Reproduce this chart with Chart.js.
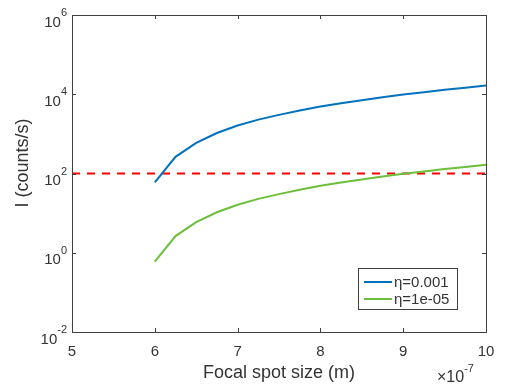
<!DOCTYPE html>
<html>
<head>
<meta charset="utf-8">
<script src="https://cdn.jsdelivr.net/npm/chart.js@4"></script>
<style>
  body { margin: 0; background: #fff; }
  #wrap { width: 506px; height: 384px; }
</style>
</head>
<body>
<div id="wrap"><canvas id="myChart" width="506" height="384"></canvas></div>
<script>
// focal spot size in units of 1e-7 m
const spotSize = [6, 6.25, 6.5, 6.75, 7, 7.25, 7.5, 7.75, 8, 8.25, 8.5, 8.75, 9, 9.25, 9.5, 9.75, 10];
const countsEta3 = [60, 263, 590, 1050, 1620, 2290, 3020, 3890, 4900, 5900, 7080, 8400, 9900, 11300, 12900, 14600, 16600];
const countsEta5 = [0.6, 2.63, 5.9, 10.5, 16.2, 22.9, 30.2, 38.9, 49, 59, 70.8, 84, 99, 113, 129, 146, 166];
const thresholdX = [5, 10];
const thresholdY = [100, 100];
const xTicks = [5, 6, 7, 8, 9, 10];
const yTicks = [1e-2, 1, 1e2, 1e4, 1e6];
const yTickExp = ["-2", "0", "2", "4", "6"];

const FONT = "'Liberation Sans', Arial, Helvetica, sans-serif";
const AX = "#404040";
const TXT = "#333333";

function pts(xs, ys) { return xs.map((x, i) => ({ x: x, y: ys[i] })); }

const matlabAxes = {
  id: "matlabAxes",
  afterDraw(chart) {
    const ctx = chart.ctx;
    const a = chart.chartArea;
    const xs = chart.scales.x, ys = chart.scales.y;
    ctx.save();
    // box
    ctx.strokeStyle = AX;
    ctx.lineWidth = 1;
    ctx.strokeRect(Math.round(a.left) + 0.5, Math.round(a.top) + 0.5,
      Math.round(a.right - a.left), Math.round(a.bottom - a.top));
    // ticks
    ctx.beginPath();
    xTicks.forEach(v => {
      const px = Math.round(xs.getPixelForValue(v)) + 0.5;
      ctx.moveTo(px, a.bottom); ctx.lineTo(px, a.bottom - 4);
      ctx.moveTo(px, a.top); ctx.lineTo(px, a.top + 4);
    });
    yTicks.forEach(v => {
      const py = Math.round(ys.getPixelForValue(v)) + 0.5;
      ctx.moveTo(a.left, py); ctx.lineTo(a.left + 4, py);
      ctx.moveTo(a.right, py); ctx.lineTo(a.right - 4, py);
    });
    ctx.stroke();

    ctx.fillStyle = TXT;
    // x tick labels
    ctx.font = "15px " + FONT;
    ctx.textAlign = "center";
    ctx.textBaseline = "alphabetic";
    xTicks.forEach(v => {
      ctx.fillText(String(v), xs.getPixelForValue(v), a.bottom + 24);
    });
    // y tick labels 10^n
    yTicks.forEach((v, i) => {
      const py = ys.getPixelForValue(v);
      ctx.font = "11px " + FONT;
      const ew = ctx.measureText(yTickExp[i]).width;
      ctx.textAlign = "right";
      ctx.fillText(yTickExp[i], a.left - 5, py + 1);
      ctx.font = "15px " + FONT;
      ctx.fillText("10", a.left - 5 - ew, py + 11.5);
    });
    // exponent of x axis
    ctx.textAlign = "left";
    ctx.font = "16px " + FONT;
    ctx.fillText("\u00d710", 437, 382);
    const w10 = ctx.measureText("\u00d710").width;
    ctx.font = "11px " + FONT;
    ctx.fillText("-7", 437 + w10, 372);

    // axis titles
    ctx.font = "18px " + FONT;
    ctx.textAlign = "center";
    ctx.fillText("Focal spot size (m)", (a.left + a.right) / 2, 378);
    ctx.save();
    ctx.translate(23, 163);
    ctx.rotate(-Math.PI / 2);
    ctx.textBaseline = "middle";
    ctx.fillText("I (counts/s)", 0, 0);
    ctx.restore();

    // legend
    const lx = 358, ly = 268, lw = 99, lh = 41;
    ctx.fillStyle = "#fff";
    ctx.fillRect(lx, ly, lw, lh);
    ctx.strokeStyle = AX;
    ctx.strokeRect(lx + 0.5, ly + 0.5, lw, lh);
    ctx.font = "15px " + FONT;
    ctx.textAlign = "left";
    ctx.textBaseline = "middle";
    chart.data.datasets.slice(0, 2).forEach((ds, i) => {
      const yy = ly + 14 + i * 17;
      ctx.strokeStyle = ds.borderColor;
      ctx.lineWidth = 2;
      ctx.beginPath();
      ctx.moveTo(lx + 6, yy); ctx.lineTo(lx + 34, yy);
      ctx.stroke();
      ctx.fillStyle = TXT;
      ctx.fillText(ds.label, lx + 36, yy + 1);
    });
    ctx.restore();
  }
};

const ctx = document.getElementById("myChart").getContext("2d");
const chart = new Chart(ctx, {
  type: "line",
  data: {
    datasets: [
      { label: "\u03b7=0.001", data: pts(spotSize, countsEta3), borderColor: "#0072bd", borderWidth: 2, pointRadius: 0, tension: 0 },
      { label: "\u03b7=1e-05", data: pts(spotSize, countsEta5), borderColor: "#6cbf3a", borderWidth: 2, pointRadius: 0, tension: 0 },
      { label: "threshold", data: pts(thresholdX, thresholdY), borderColor: "#ff0000", borderWidth: 1.8, borderDash: [8, 7], pointRadius: 0 }
    ]
  },
  options: {
    responsive: false,
    animation: false,
    layout: { padding: { left: 72, right: 20, top: 15, bottom: 52 } },
    plugins: { legend: { display: false }, tooltip: { enabled: false } },
    scales: {
      x: { type: "linear", min: 5, max: 10, display: false },
      y: { type: "logarithmic", min: 1e-2, max: 1e6, display: false }
    }
  },
  plugins: [matlabAxes]
});
</script>
</body>
</html>
